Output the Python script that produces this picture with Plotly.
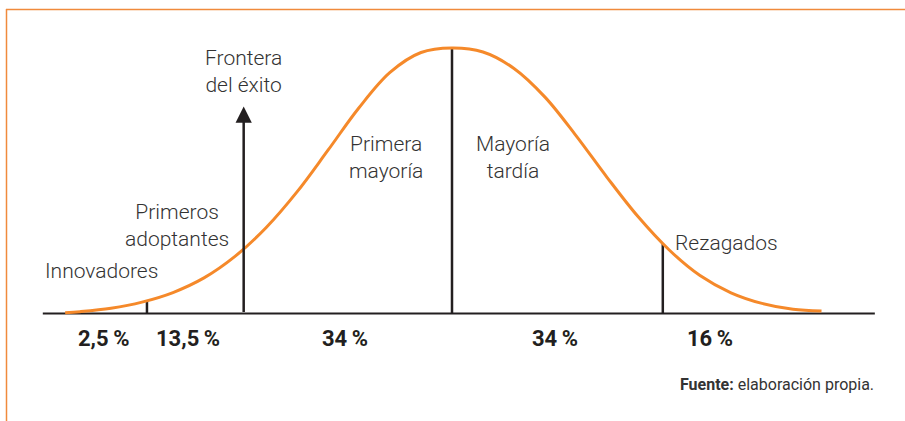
import plotly.graph_objects as go

# Bell curve points (x in standard-deviation-like units, y = relative adoption 0..100)
curve_x = [-3.12, -3.0, -2.75, -2.5, -2.25, -2.0, -1.75, -1.5, -1.25, -1.0, -0.75, -0.5, -0.25,
           0.0, 0.25, 0.5, 0.75, 1.0, 1.25, 1.5, 1.75, 2.0, 2.25, 2.5, 2.75, 2.98]
curve_y = [0.3, 0.7, 2.0, 4.3, 7.9, 13.4, 21.5, 32.3, 45.8, 61.5, 77.5, 90.8, 98.3,
           100.0, 98.5, 92.3, 81.5, 67.0, 51.3, 36.5, 24.0, 14.3, 7.8, 3.8, 1.6, 0.9]

# Dividers between adopter groups
divider_x = [-2.46, 0.0, 1.70]
divider_top = [4.9, 100.0, 26.2]
frontier_x = -1.68
frontier_top = 78.0
baseline_x = [-3.30, 3.41]

# Group shares
share_labels = ["2,5\u2009%", "13,5\u2009%", "34\u2009%", "34\u2009%", "16\u2009%"]
share_x = [-2.81, -2.13, -0.86, 0.83, 2.08]

group_labels = ["Innovadores", "Primeros<br>adoptantes", "Primera<br>mayoría", "Mayoría<br>tardía", "Rezagados"]
group_x = [-3.30, -2.22, -0.53, 0.49, 2.215]
group_y = [16.0, 33.3, 58.6, 58.6, 26.6]

ORANGE = "#F5892A"
DARK = "#231F20"
TEXT = "#333333"
FONT = "Roboto, Liberation Sans, Arial, sans-serif"

fig = go.Figure()

# baseline
fig.add_trace(go.Scatter(x=baseline_x, y=[0, 0], mode="lines",
                         line=dict(color=DARK, width=2), hoverinfo="skip"))

# dividers
dx, dy = [], []
for x, t in zip(divider_x, divider_top):
    dx += [x, x, None]
    dy += [0, t, None]
fig.add_trace(go.Scatter(x=dx, y=dy, mode="lines",
                         line=dict(color=DARK, width=2.5), hoverinfo="skip"))

# curve
fig.add_trace(go.Scatter(x=curve_x, y=curve_y, mode="lines",
                         line=dict(color=ORANGE, width=3, shape="spline", smoothing=1.0),
                         hoverinfo="skip"))

annotations = []
# frontier arrow
annotations.append(dict(x=frontier_x, y=frontier_top, ax=frontier_x, ay=0,
                        xref="x", yref="y", axref="x", ayref="y",
                        showarrow=True, arrowhead=2, arrowsize=1.3, arrowwidth=2.5,
                        arrowcolor=DARK, standoff=0, text=""))
annotations.append(dict(x=frontier_x, y=91.3, xref="x", yref="y", text="Frontera<br>del éxito",
                        showarrow=False, xanchor="center", yanchor="middle",
                        font=dict(family=FONT, size=21, color=TEXT, weight=300)))

for lab, x, y in zip(group_labels, group_x, group_y):
    annotations.append(dict(x=x, y=y, xref="x", yref="y", text=lab, showarrow=False,
                            xanchor="left" if lab == "Innovadores" else "center",
                            yanchor="middle",
                            font=dict(family=FONT, size=21, color=TEXT, weight=300)))

for lab, x in zip(share_labels, share_x):
    annotations.append(dict(x=x, y=-9.6, xref="x", yref="y", text=lab, showarrow=False,
                            xanchor="center", yanchor="middle",
                            font=dict(family=FONT, size=22, color=DARK, weight="bold")))

annotations.append(dict(x=876 / 905, y=1 - 384 / 421, xref="paper", yref="paper",
                        text="<b>Fuente:</b> elaboración propia.", showarrow=False,
                        xanchor="right", yanchor="middle",
                        font=dict(family=FONT, size=16, color=TEXT)))

shapes = [
    dict(type="line", xref="paper", yref="paper", x0=6 / 905, x1=1, y0=1 - 9.5 / 421, y1=1 - 9.5 / 421,
         line=dict(color="#F08A3C", width=1.5)),
    dict(type="line", xref="paper", yref="paper", x0=6.5 / 905, x1=6.5 / 905, y0=0, y1=1 - 9 / 421,
         line=dict(color="#F08A3C", width=1.5)),
]

fig.update_layout(
    width=905, height=421,
    margin=dict(l=0, r=0, t=0, b=0),
    paper_bgcolor="white", plot_bgcolor="white",
    showlegend=False,
    xaxis=dict(range=[-452 / 124, (905 - 452) / 124], visible=False, fixedrange=True),
    yaxis=dict(range=[(313.5 - 421) / 2.655, 313.5 / 2.655], visible=False, fixedrange=True),
    annotations=annotations,
    shapes=shapes,
    hovermode=False,
)

fig.write_html("out.html")
